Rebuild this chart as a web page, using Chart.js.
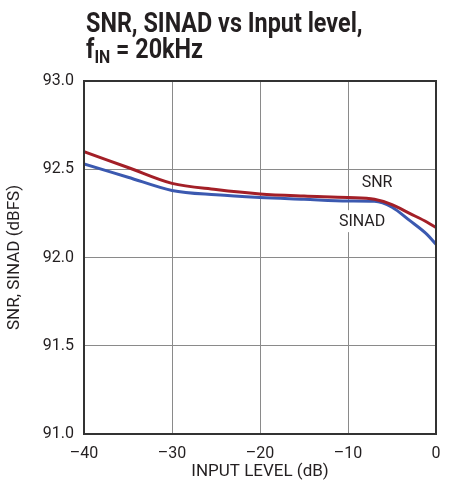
<!DOCTYPE html>
<html>
<head>
<meta charset="utf-8">
<script src="https://cdn.jsdelivr.net/npm/chart.js@4/dist/chart.umd.min.js"></script>
<style>
  html, body { margin: 0; padding: 0; background: #fff; }
  #wrap { position: relative; width: 451px; height: 487px; }
  #title {
    position: absolute; left: 86px; top: 10px; white-space: nowrap;
    font-family: Roboto, "Liberation Sans", sans-serif;
    font-weight: bold; font-size: 28px; line-height: 26px; color: #231f20;
    transform: scaleX(0.835); transform-origin: left top;
  }
  #title sub { font-size: 19px; vertical-align: -5px; line-height: 0; }
  canvas { position: absolute; left: 0; top: 0; }
</style>
</head>
<body>
<div id="wrap">
  <canvas id="chart" width="451" height="487"></canvas>
  <div id="title">SNR, SINAD vs Input level,<br>f<sub>IN</sub> = 20kHz</div>
</div>
<script>
// values
const inputLevel = [-40, -35, -30, -25, -20, -15, -10, -7, -5, -3, -1, 0];
const snr   = [92.60, 92.51, 92.42, 92.385, 92.36, 92.348, 92.34, 92.33, 92.30, 92.25, 92.20, 92.17];
const sinad = [92.53, 92.455, 92.38, 92.355, 92.34, 92.33, 92.32, 92.318, 92.285, 92.21, 92.13, 92.075];
const xTicks = [-40, -30, -20, -10, 0];
const yTicks = [91.0, 91.5, 92.0, 92.5, 93.0];

const FONT = "Roboto, 'Liberation Sans', sans-serif";
const INK = '#231f20';

// curve labels, placed in data units
const curveLabels = [
  { text: 'SNR', x: -6.7, y: 92.43 },
  { text: 'SINAD', x: -8.4, y: 92.206 }
];

const frame = {
  id: 'frame',
  afterDatasetsDraw(chart) {
    const { ctx, chartArea: a, scales } = chart;
    ctx.save();
    ctx.font = '16px ' + FONT;
    ctx.textAlign = 'center';
    ctx.textBaseline = 'middle';
    curveLabels.forEach(l => {
      const px = scales.x.getPixelForValue(l.x);
      const py = scales.y.getPixelForValue(l.y);
      const w = ctx.measureText(l.text).width;
      ctx.fillStyle = '#fff';
      ctx.fillRect(px - w / 2 - 4, py - 11, w + 8, 22);
      ctx.fillStyle = INK;
      ctx.fillText(l.text, px, py + 1);
    });
    ctx.strokeStyle = '#333';
    ctx.lineWidth = 2;
    ctx.strokeRect(a.left, a.top, a.right - a.left, a.bottom - a.top);
    ctx.restore();
  }
};

new Chart(document.getElementById('chart'), {
  type: 'line',
  data: {
    datasets: [
      {
        label: 'SNR',
        data: inputLevel.map((x, i) => ({ x: x, y: snr[i] })),
        borderColor: '#a31f27',
        borderWidth: 3,
        pointRadius: 0,
        cubicInterpolationMode: 'monotone'
      },
      {
        label: 'SINAD',
        data: inputLevel.map((x, i) => ({ x: x, y: sinad[i] })),
        borderColor: '#3b59b0',
        borderWidth: 3,
        pointRadius: 0,
        cubicInterpolationMode: 'monotone'
      }
    ]
  },
  options: {
    responsive: false,
    animation: false,
    events: [],
    layout: { padding: { left: 0, right: 15, top: 81, bottom: 0 } },
    plugins: { legend: { display: false }, tooltip: { enabled: false } },
    scales: {
      x: {
        type: 'linear',
        min: -40, max: 0,
        afterBuildTicks: s => { s.ticks = xTicks.map(v => ({ value: v })); },
        afterFit: s => { s.height = 53; },
        grid: { color: '#8a8a8a', lineWidth: 1, drawTicks: false },
        border: { display: false },
        ticks: {
          padding: 10,
          color: INK,
          font: { family: FONT, size: 16 },
          maxRotation: 0,
          callback: v => String(v).replace('-', '\u2013')
        },
        title: {
          display: true, text: 'INPUT LEVEL (dB)', color: INK,
          font: { family: FONT, size: 17 }, padding: { top: 0, bottom: 5 }
        }
      },
      y: {
        min: 91, max: 93,
        afterBuildTicks: s => { s.ticks = yTicks.map(v => ({ value: v })); },
        afterFit: s => { s.width = 84; },
        grid: { color: '#8a8a8a', lineWidth: 1, drawTicks: false },
        border: { display: false },
        ticks: {
          padding: 10,
          color: INK,
          font: { family: FONT, size: 16 },
          callback: v => v.toFixed(1)
        },
        title: {
          display: true, text: 'SNR, SINAD (dBFS)', color: INK,
          font: { family: FONT, size: 17 }, padding: { top: 5, bottom: 0 }
        }
      }
    }
  },
  plugins: [frame]
});
</script>
</body>
</html>
